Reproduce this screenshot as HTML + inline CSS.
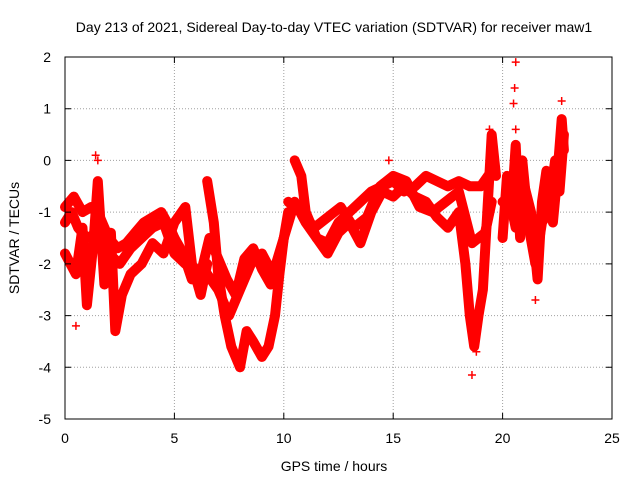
<!DOCTYPE html>
<html><head><meta charset="utf-8"><style>
body{margin:0;background:#fff;}
svg text{font-family:"Liberation Sans",sans-serif;font-size:14px;fill:#000;}
</style></head><body>
<svg id="chart" width="640" height="480" xmlns="http://www.w3.org/2000/svg">
<rect width="640" height="480" fill="#fff"/>
<text x="334" y="32" text-anchor="middle">Day 213 of 2021, Sidereal Day-to-day VTEC variation (SDTVAR) for receiver maw1</text>
<g id="grid"></g>
<g id="marks"></g>
<g id="axes"></g>
<text x="334" y="471" text-anchor="middle">GPS time / hours</text>
<text transform="translate(19,238) rotate(-90)" text-anchor="middle">SDTVAR / TECUs</text>
</svg>
<script>
const xTicks=[0,5,10,15,20,25];
const yTicks=[-5,-4,-3,-2,-1,0,1,2];
const trackMainT=[0,0.3,0.6,1.0,1.5,2.0,2.5,3.0,3.5,4.0,4.5,5.0,5.5,6.0,6.5,7.0,7.5,8.0,8.5,9.0,9.5,10.0,10.5,11,11.5,12,12.5,13,13.5,14,14.5,15,15.5,16,16.5,17,17.5,18,18.5,19,19.5];
const trackMainV=[-1.2,-1.0,-1.3,-1.5,-1.4,-1.8,-2.0,-1.7,-1.5,-1.3,-1.2,-1.8,-2.0,-2.1,-2.2,-2.5,-3.0,-2.5,-2.0,-1.8,-2.2,-1.5,-0.8,-1.2,-1.5,-1.6,-1.2,-1.0,-0.8,-0.6,-0.5,-0.4,-0.6,-0.5,-0.3,-0.4,-0.5,-0.4,-0.5,-0.5,-0.2];
const trackUpT=[0,0.4,0.8,1.2,1.6,2.0,2.4,2.8,3.2,3.6,4.0,4.4,4.8,5.0];
const trackUpV=[-0.9,-0.7,-1.0,-0.9,-1.1,-1.5,-1.7,-1.6,-1.4,-1.2,-1.1,-1.0,-1.3,-1.5];
const trackUp2T=[5.0,5.4,5.8,6.2,6.6,7.0,7.4,7.8,8.2,8.6,9.0,9.4,9.8,10.2];
const trackUp2V=[-1.5,-1.8,-2.3,-2.2,-1.5,-1.9,-2.3,-2.6,-1.9,-1.7,-2.1,-2.4,-2.0,-1.0];
const trackLowT=[6.5,6.8,7.0,7.3,7.6,8.0,8.3,8.6,9.0,9.3,9.6,9.8,10.0];
const trackLowV=[-0.4,-1.2,-2.2,-3.0,-3.6,-4.0,-3.3,-3.5,-3.8,-3.6,-3.0,-2.2,-1.5];
const trackMidT=[10.5,10.8,11.0,11.5,12.0,12.5,13.0,13.5,14.0,14.5,15.0,15.5,16.0,16.5,17.0,17.5,18.0,18.3,18.5,18.7,18.9,19.1,19.3,19.5,19.7];
const trackMidV=[0.0,-0.3,-1.0,-1.5,-1.8,-1.4,-1.2,-1.6,-1.0,-0.6,-0.7,-0.5,-0.7,-0.8,-1.1,-1.3,-1.0,-2.0,-3.0,-3.6,-3.0,-2.5,-1.0,0.5,-0.3];
const trackMid2T=[10.2,10.8,11.4,12.0,12.6,13.2,13.8,14.4,15.0,15.6,16.2,16.8,17.4,18.0,18.6,19.2,19.5];
const trackMid2V=[-0.8,-1.0,-1.3,-1.1,-0.9,-1.3,-1.1,-0.5,-0.3,-0.4,-0.9,-1.0,-0.8,-0.6,-1.6,-1.4,-0.8];
const trackEarlyT=[0,0.5,0.8,1.0,1.3,1.5,1.8,2.1,2.3,2.6,3.0,3.5,4.0,4.5,5.0,5.5,5.8,6.2,6.5];
const trackEarlyV=[-1.8,-2.2,-1.3,-2.8,-1.6,-0.4,-2.4,-1.4,-3.3,-2.6,-2.2,-2.0,-1.6,-1.8,-1.2,-0.9,-2.0,-2.6,-2.0];
const trackLateT=[20.0,20.2,20.4,20.6,20.8,21.0,21.3,21.6,21.8,22.0,22.3,22.5,22.7,22.8];
const trackLateV=[-1.5,-0.3,-1.0,0.3,-1.5,-0.5,-1.0,-2.3,-0.8,-0.2,-1.2,-0.3,0.8,0.2];
const trackLate2T=[20.0,20.3,20.6,20.9,21.2,21.5,21.8,22.1,22.4,22.6,22.8];
const trackLate2V=[-0.8,-0.7,-1.3,0.0,-1.3,-2.0,-1.2,-1.0,0.0,-0.6,0.5];
const outlierT=[20.6,20.55,20.5,1.4,18.6,22.7,0.5,14.8,19.4,21.5,1.5,18.8,20.6];
const outlierV=[1.9,1.4,1.1,0.1,-4.15,1.15,-3.2,0.0,0.6,-2.7,0.0,-3.7,0.6];
const X0=65,X1=612,Y0=419,Y1=57;
const xs=t=>X0+(t-0)/(25-0)*(X1-X0);
const ys=v=>Y0-(v+5)/7*(Y0-Y1);
const NS='http://www.w3.org/2000/svg';
function mk(tag,attrs,parent){const e=document.createElementNS(NS,tag);for(const k in attrs)e.setAttribute(k,attrs[k]);parent.appendChild(e);return e;}
const grid=document.getElementById('grid'),axes=document.getElementById('axes'),marks=document.getElementById('marks');
xTicks.forEach(t=>{
 if(t>0&&t<25){const l=mk('line',{x1:xs(t),x2:xs(t),y1:Y0,y2:Y1,stroke:'#a0a0a0','stroke-dasharray':'1,2'},grid);}
 const tk=mk('path',{d:`M${xs(t)},${Y0}v-6M${xs(t)},${Y1}v6`,stroke:'#000'},axes);
 const tx=mk('text',{x:xs(t),y:443,'text-anchor':'middle'},axes);tx.textContent=t;
});
yTicks.forEach(v=>{
 if(v>-5&&v<2){const l=mk('line',{x1:X0,x2:X1,y1:ys(v),y2:ys(v),stroke:'#a0a0a0','stroke-dasharray':'1,2'},grid);}
 const tk=mk('path',{d:`M${X0},${ys(v)}h6M${X1},${ys(v)}h-6`,stroke:'#000'},axes);
 const tx=mk('text',{x:51,y:ys(v)+5,'text-anchor':'end'},axes);tx.textContent=v;
});
const br=mk('rect',{x:X0,y:Y1,width:X1-X0,height:Y0-Y1,fill:'none',stroke:'#000'},axes);


function track(T,V,name){
 const d=T.map((t,i)=>(i?'L':'M')+xs(t).toFixed(1)+','+ys(V[i]).toFixed(1)).join('');
 const p=mk('path',{d:d,fill:'none',stroke:'#ff0000','stroke-width':10,'stroke-linejoin':'round','stroke-linecap':'round'},marks);
 
 
 pts(T,V,name+'-point');
}
function pts(T,V,name){
 T.forEach((t,i)=>{const x=xs(t),y=ys(V[i]);
  const m=mk('path',{d:`M${x-4},${y}h8M${x},${y-4}v8`,stroke:'#ff0000','stroke-width':1.5},marks);
  
  
 });
}
track(trackMainT,trackMainV,'track-main');
track(trackUpT,trackUpV,'track-upper');
track(trackUp2T,trackUp2V,'track-upper-2');
track(trackLowT,trackLowV,'track-low');
track(trackMidT,trackMidV,'track-mid');
track(trackMid2T,trackMid2V,'track-mid-2');
track(trackEarlyT,trackEarlyV,'track-early');
track(trackLateT,trackLateV,'track-late');
track(trackLate2T,trackLate2V,'track-late-2');
pts(outlierT,outlierV,'outlier-point');
</script>
</body></html>
